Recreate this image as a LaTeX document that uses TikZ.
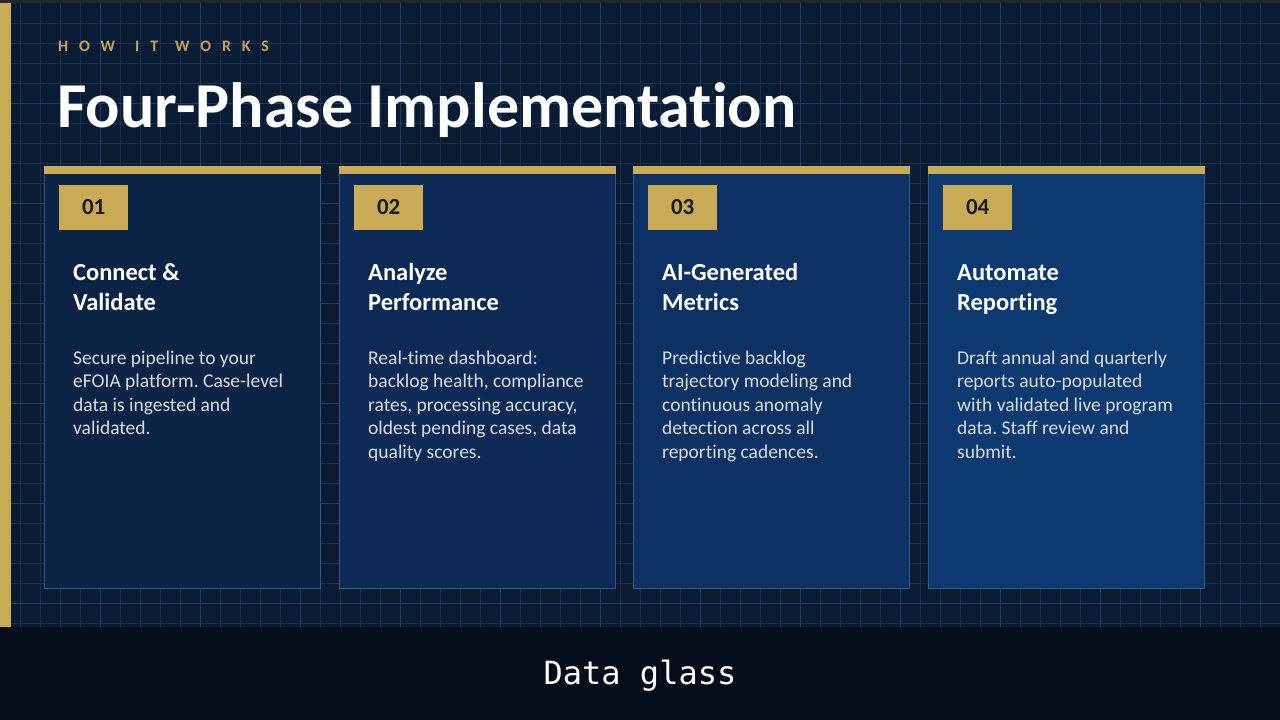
\documentclass[tikz,border=0pt]{standalone}
\usepackage{fontspec}
\setmainfont[Ligatures=NoCommon]{Carlito}
\setmonofont{DejaVu Sans Mono}
\usetikzlibrary{positioning}
\frenchspacing
\definecolor{bgnavy}{HTML}{0A1B34}
\definecolor{bandnavy}{HTML}{050D1B}
\definecolor{gridblue}{HTML}{18304F}
\definecolor{gridmajor}{HTML}{213D62}
\definecolor{goldtone}{HTML}{C9AA55}
\definecolor{eyebrow}{HTML}{C2A35A}
\definecolor{numdark}{HTML}{1B1A14}
\definecolor{cardedge}{HTML}{36577F}
\definecolor{bodytext}{HTML}{D6DDE7}
\definecolor{cardA}{HTML}{0B2445}
\definecolor{cardB}{HTML}{0C2A55}
\definecolor{cardC}{HTML}{0D3163}
\definecolor{cardD}{HTML}{0D3971}
\tikzset{
  gridline/.style={draw=gridblue, line width=0.7pt},
  gridbold/.style={draw=gridmajor, line width=0.8pt},
  eyebrowtext/.style={anchor=base west, inner sep=0pt, text=eyebrow, font=\fontsize{16}{18}\selectfont\bfseries\addfontfeature{LetterSpace=68}},
  cardbox/.style={draw=cardedge, line width=0.8pt, minimum width=276pt, minimum height=415pt, inner sep=0pt, anchor=north west},
  goldbar/.style={fill=goldtone, minimum width=277pt, minimum height=8pt, inner sep=0pt, anchor=north west},
  numbadge/.style={fill=goldtone, minimum width=69pt, minimum height=45pt, inner sep=0pt, text=numdark, font=\fontsize{23}{26}\selectfont\bfseries},
  phasetitle/.style={anchor=north west, inner sep=0pt, align=left, text=white, font=\fontsize{24.5}{30}\selectfont\bfseries},
  phasetext/.style={anchor=north west, inner sep=0pt, align=left, text=bodytext, font=\fontsize{19.5}{23.5}\selectfont}
}
\begin{document}
\begin{tikzpicture}[x=1pt, y=-1pt]
  \useasboundingbox (0,0) rectangle (1280,720);
  % background and grid
  \fill[bgnavy] (0,0) rectangle (1280,627);
  \foreach \x in {20,40,...,1280} \draw[gridline] (\x,0) -- (\x,627);
  \foreach \y in {23,43,...,627} \draw[gridline] (0,\y) -- (1280,\y);
  \foreach \x in {100,200,...,1200} \draw[gridbold] (\x,0) -- (\x,627);
  \foreach \y in {103,203,...,603} \draw[gridbold] (0,\y) -- (1280,\y);
  \fill[black!85] (0,0) rectangle (1280,3);
  \fill[goldtone] (0,3) rectangle (11,627);

  % heading
  \node[eyebrowtext] (how) at (58,51.5) {HOW};
  \node[eyebrowtext] (it) at (135,51.5) {IT};
  \node[eyebrowtext] (works) at (175,51.5) {WORKS};
  \node[anchor=base west, inner sep=0pt, text=white, font=\fontsize{64}{70}\selectfont\bfseries] (headline) at (57,127) {Four-Phase Implementation};

  % phase cards
  \foreach \i/\x/\fillc/\ttl/\txt in {
    1/44/cardA/{Connect \&\\Validate}/{Secure pipeline to your\\eFOIA platform. Case-level\\data is ingested and\\validated.},
    2/339/cardB/{Analyze\\Performance}/{Real-time dashboard:\\backlog health, compliance\\rates, processing accuracy,\\oldest pending cases, data\\quality scores.},
    3/633/cardC/{AI-Generated\\Metrics}/{Predictive backlog\\trajectory modeling and\\continuous anomaly\\detection across all\\reporting cadences.},
    4/928/cardD/{Automate\\Reporting}/{Draft annual and quarterly\\reports auto-populated\\with validated live program\\data. Staff review and\\submit.}} {
    \node[cardbox, fill=\fillc] (card\i) at (\x,173) {};
    \node[goldbar] (bar\i) at (\x,166) {};
    \node[numbadge, below right=10pt and 15pt of bar\i.south west] (num\i) {0\i};
    \node[phasetitle, below right=29.5pt and 14pt of num\i.south west] (title\i) {\strut\ttl};
    \node[phasetext, below right=118pt and 14pt of num\i.south west] (text\i) {\strut\txt};
  }

  % footer band
  \fill[bandnavy] (0,627) rectangle (1280,720);
  \node[text=white, font=\fontsize{32}{36}\ttfamily] (caption) at (640,676) {Data glass};
\end{tikzpicture}
\end{document}
